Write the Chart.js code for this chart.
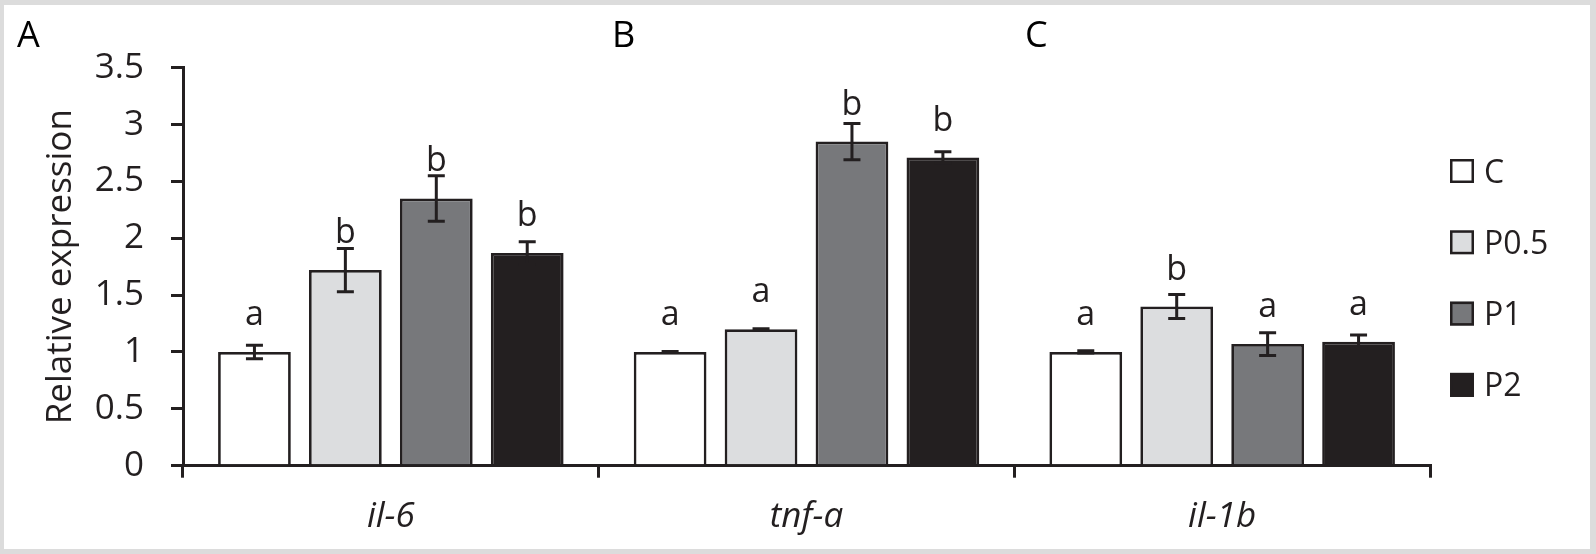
<!DOCTYPE html>
<html>
<head>
<meta charset="utf-8">
<script src="https://cdn.jsdelivr.net/npm/chart.js@4.4.1/dist/chart.umd.min.js"></script>
<style>
  html, body { margin: 0; padding: 0; background: #fff; }
  canvas { display: block; }
</style>
</head>
<body>
<canvas id="grafik" width="1596" height="554"></canvas>
<script>
// data
const categories = ['il-6', 'tnf-a', 'il-1b'];
const seriesNames = ['C', 'P0.5', 'P1', 'P2'];

const valC   = [1.00, 1.00, 1.00];
const valP05 = [1.72, 1.20, 1.40];
const valP1  = [2.35, 2.85, 1.07];
const valP2  = [1.87, 2.71, 1.09];

const errC   = [0.06, 0.005, 0.01];
const errP05 = [0.19, 0.005, 0.105];
const errP1  = [0.20, 0.16, 0.10];
const errP2  = [0.10, 0.05, 0.06];

const letterC   = ['a', 'a', 'a'];
const letterP05 = ['b', 'a', 'b'];
const letterP1  = ['b', 'b', 'a'];
const letterP2  = ['b', 'b', 'a'];

const panelLabels = ['A', 'B', 'C'];
const yTickLabels = ['0', '0.5', '1', '1.5', '2', '2.5', '3', '3.5'];
const yMax = 3.5;
const yStep = 0.5;

const ink = '#231f20';
const fillColors = ['#ffffff', '#dcdddf', '#77787b', '#231f20'];

const allValues = [valC, valP05, valP1, valP2];
const allErrors = [errC, errP05, errP1, errP2];
const allLetters = [letterC, letterP05, letterP1, letterP2];

Chart.defaults.font.family = "'Open Sans', sans-serif";
Chart.defaults.color = ink;

// bingkai abu-abu di luar
const framePlugin = {
    id: 'frame',
    beforeDraw(chart) {
        const c = chart.ctx;
        c.save();
        c.fillStyle = '#dcdcdc';
        c.fillRect(0, 0, chart.width, chart.height);
        c.fillStyle = '#ffffff';
        c.fillRect(4, 5, chart.width - 10, chart.height - 10);
        c.restore();
    }
};

// error bar + huruf signifikansi + legenda + label panel
const extrasPlugin = {
    id: 'extras',
    afterDatasetsDraw(chart) {
        const c = chart.ctx;
        const y = chart.scales.y;
        c.save();
        c.strokeStyle = ink;
        c.lineWidth = 3;
        chart.data.datasets.forEach((ds, di) => {
            const meta = chart.getDatasetMeta(di);
            meta.data.forEach((bar, i) => {
                const v = ds.data[i];
                const e = allErrors[di][i];
                const x = bar.x;
                const yHi = y.getPixelForValue(v + e);
                const yLo = y.getPixelForValue(v - e);
                const cap = 8.5;
                c.beginPath();
                c.moveTo(x, yHi); c.lineTo(x, yLo);
                c.moveTo(x - cap, yHi); c.lineTo(x + cap, yHi);
                c.moveTo(x - cap, yLo); c.lineTo(x + cap, yLo);
                c.stroke();

                c.fillStyle = ink;
                c.font = "34px 'Open Sans', sans-serif";
                c.textAlign = 'center';
                c.textBaseline = 'alphabetic';
                c.fillText(allLetters[di][i], x, y.getPixelForValue(v) - 27);
            });
        });
        c.restore();
    },
    afterDraw(chart) {
        const c = chart.ctx;
        c.save();
        // legenda kanan
        chart.data.datasets.forEach((ds, i) => {
            const cy = 171 + i * 71.3;
            c.fillStyle = ds.backgroundColor;
            c.fillRect(1450, cy - 12, 24, 24);
            c.strokeStyle = ink;
            c.lineWidth = 2.5;
            c.strokeRect(1451.25, cy - 10.75, 21.5, 21.5);
            c.fillStyle = ink;
            c.font = "32px 'Open Sans', sans-serif";
            c.textAlign = 'left';
            c.textBaseline = 'alphabetic';
            c.fillText(ds.label, 1484, cy + 11.5);
        });
        // huruf panel
        const px = [17, 612, 1025];
        c.font = "36px 'Open Sans', sans-serif";
        c.fillStyle = '#000';
        c.textAlign = 'left';
        panelLabels.forEach((t, i) => c.fillText(t, px[i], 46.5));
        c.restore();
    }
};

const ctx = document.getElementById('grafik').getContext('2d');
const grafik = new Chart(ctx, {
    type: 'bar',
    data: {
        labels: categories,
        datasets: seriesNames.map((name, i) => ({
            label: name,
            data: allValues[i],
            backgroundColor: fillColors[i],
            borderColor: ink,
            borderWidth: 2.75,
            categoryPercentage: 0.875,
            barPercentage: 0.8
        }))
    },
    options: {
        responsive: false,
        animation: false,
        devicePixelRatio: 1,
        layout: {
            padding: { top: 67.7, right: 166, bottom: 0, left: 0 }
        },
        plugins: {
            legend: { display: false },
            tooltip: { enabled: false }
        },
        scales: {
            x: {
                grid: {
                    drawOnChartArea: false,
                    tickLength: 12,
                    lineWidth: 3,
                    color: ink
                },
                border: { color: ink, width: 3 },
                ticks: {
                    padding: 18,
                    font: { size: 35, style: 'italic' },
                    color: ink
                },
                afterFit: (scale) => { scale.height = 554 - 465.7; }
            },
            y: {
                min: 0,
                max: yMax,
                ticks: {
                    stepSize: yStep,
                    padding: 27,
                    font: { size: 35 },
                    color: ink,
                    callback: (value, index) => yTickLabels[index]
                },
                grid: {
                    drawOnChartArea: false,
                    tickLength: 12,
                    lineWidth: 3,
                    color: ink
                },
                border: { color: ink, width: 3 },
                title: {
                    display: true,
                    text: 'Relative expression',
                    font: { size: 35 },
                    color: ink,
                    padding: { top: 40, bottom: 0 }
                },
                afterFit: (scale) => { scale.width = 183; }
            }
        }
    },
    plugins: [framePlugin, extrasPlugin]
});
</script>
</body>
</html>
